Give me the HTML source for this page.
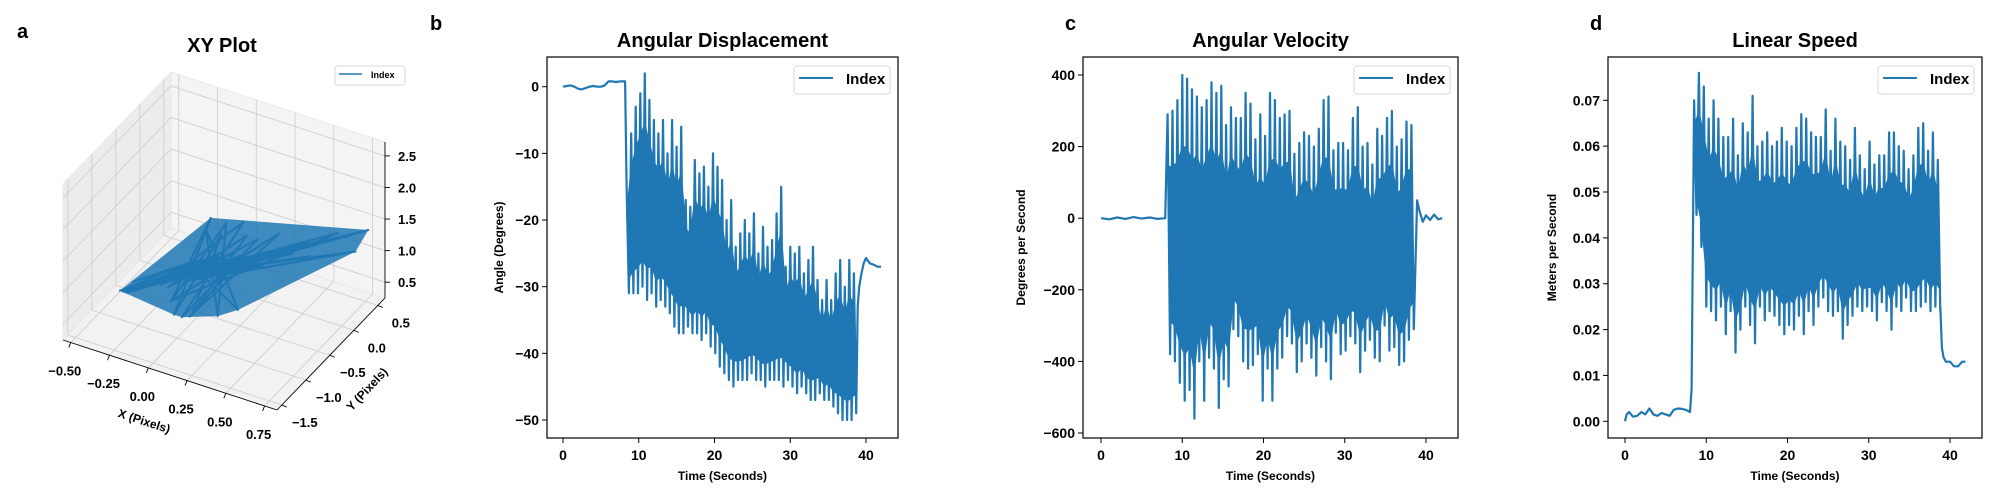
<!DOCTYPE html>
<html><head><meta charset="utf-8">
<style>
body{margin:0;background:#fff;}
svg{display:block;font-family:"Liberation Sans",Arial,sans-serif;}
text{font-weight:bold;fill:#000;}
</style></head>
<body>
<svg id="fig" width="2000" height="500" viewBox="0 0 2000 500"></svg>
<script>
// ---------- Panel b data: Angular Displacement ----------
const bPreT=[0,0.5,1,1.5,2,2.5,3,3.5,4,4.5,5,5.5,6,6.5,7,7.5,8,8.2];
const bPreV=[0,0.1,0.2,0,-0.3,-0.4,-0.2,0,0.1,0,0,0.2,0.8,0.8,0.7,0.8,0.8,0.8];
const bPeaks=[-15,-7,-3,-1,2,-2,-5,-7,-5,-10,-5,-9,-6,-17,-18,-11,-13,-12,-15,-10,-12,-14,-20,-17,-24,-22,-20,-22,-19,-25,-21,-24,-23,-19,-15,-27,-24,-25,-24,-28,-26,-24,-29,-32,-29,-32,-28,-26,-30,-26,-28];
const bTroughs=[-31,-31,-31,-30,-32,-31,-33,-32,-33,-34,-36,-37,-37,-36,-37,-37,-38,-37,-39,-40,-42,-43,-44,-45,-44,-44,-44,-43,-44,-44,-45,-44,-44,-44,-45,-44,-45,-46,-45,-46,-47,-47,-46,-47,-47,-48,-49,-50,-50,-50,-49];
const bPostT=[38.9,39.1,39.4,39.7,40,40.5,41,41.5,42];
const bPostV=[-33,-30,-28,-26.5,-25.7,-26.5,-26.7,-27,-27];
const bXTicks=[0,10,20,30,40];
const bYTicks=[0,-10,-20,-30,-40,-50];

// ---------- Panel c data: Angular Velocity ----------
const cPreT=[0,1,2,3,4,5,6,7,7.9];
const cPreV=[0,-3,2,-2,3,-1,2,-2,0];
const cPeaks=[290,300,330,400,390,360,340,310,330,380,350,370,260,310,280,280,350,320,220,290,230,350,330,280,290,300,180,210,240,230,200,250,330,340,190,210,210,190,280,310,200,210,150,250,230,280,300,200,220,270,260];
const cTroughs=[-380,-400,-460,-510,-480,-560,-400,-510,-390,-420,-530,-450,-470,-310,-330,-400,-420,-410,-380,-510,-420,-510,-420,-390,-330,-350,-430,-400,-350,-390,-440,-360,-400,-450,-320,-380,-370,-330,-350,-430,-370,-340,-390,-400,-300,-370,-360,-410,-400,-340,-310];
const cPostT=[38.9,39.2,39.6,40,40.5,41,41.5,42];
const cPostV=[50,20,-10,8,-5,10,-3,0];
const cXTicks=[0,10,20,30,40];
const cYTicks=[400,200,0,-200,-400,-600];

// ---------- Panel d data: Linear Speed ----------
const dPreT=[0,0.2,0.5,1,1.5,2,2.5,3,3.5,4,4.5,5,5.5,6,6.5,7,7.5,8,8.2];
const dPreV=[0,0.0015,0.002,0.001,0.0012,0.002,0.0015,0.0028,0.0015,0.0012,0.0018,0.0015,0.0012,0.0025,0.0028,0.0027,0.0025,0.002,0.007];
const dPeaks=[0.07,0.076,0.073,0.066,0.07,0.066,0.062,0.062,0.066,0.058,0.065,0.063,0.071,0.060,0.061,0.063,0.06,0.061,0.064,0.061,0.06,0.064,0.067,0.066,0.063,0.062,0.062,0.068,0.059,0.066,0.061,0.06,0.057,0.064,0.058,0.055,0.061,0.056,0.058,0.058,0.063,0.063,0.06,0.059,0.055,0.058,0.064,0.065,0.059,0.063,0.057];
const dTroughs=[0.045,0.038,0.025,0.024,0.022,0.025,0.019,0.024,0.015,0.020,0.025,0.021,0.017,0.025,0.022,0.024,0.023,0.021,0.019,0.021,0.020,0.023,0.019,0.024,0.021,0.025,0.027,0.024,0.023,0.024,0.018,0.021,0.023,0.025,0.024,0.025,0.024,0.022,0.026,0.024,0.020,0.025,0.024,0.027,0.024,0.024,0.025,0.026,0.024,0.025,0.024];
const dPostT=[38.8,39,39.2,39.5,40,40.5,41,41.5,41.9];
const dPostV=[0.025,0.016,0.014,0.013,0.013,0.012,0.012,0.013,0.013];
const dXTicks=[0,10,20,30,40];
const dYTicks=[0.07,0.06,0.05,0.04,0.03,0.02,0.01,0.00];

// ---------- Panel a data: XY trajectory ----------
const aX=[-0.4,-0.1,-0.35,0.0,-0.3,0.1,-0.38,-0.05,-0.25,0.15,-0.32,0.05,-0.2,0.2,-0.36,0.0,-0.15,0.3,-0.28,0.1,-0.1,0.4,-0.2,0.2,-0.3,0.25,-0.05,0.5,-0.15,0.35,-0.25,0.6,-0.1,0.7,-0.2,0.8,-0.05,0.78,0.0,0.55,-0.3,0.3,-0.35,0.1,-0.4,0.0,-0.2,0.45,-0.1,0.65,-0.1,0.0,-0.05,0.1,0.05,0.2,-0.15,0.3,0.0,0.15,-0.2,0.25,0.05,0.35,-0.1,0.1,0.2,0.0,0.3,-0.05];
const aY=[-0.9,-0.6,-0.8,-0.5,-0.85,-0.4,-0.9,-0.55,-0.7,-0.3,-0.85,-0.45,-0.65,-0.3,-0.9,-0.5,-0.6,-0.2,-0.8,-0.4,-0.5,-0.1,-0.7,-0.3,-0.8,-0.25,-0.55,0.1,-0.6,-0.1,-0.75,0.2,-0.55,0.3,-0.7,0.4,-0.6,0.2,-0.5,0.0,-0.8,-0.2,-0.85,-0.45,-0.9,-0.5,-0.7,-0.05,-0.6,0.25,-0.8,-0.3,-0.9,-0.4,-0.85,-0.2,-0.7,-0.3,-0.9,-0.1,-0.7,-0.4,-0.9,0.0,-0.8,-0.3,-0.8,-0.4,-0.7,-0.6];
const aZ=[0.6,1.0,0.7,1.1,0.65,1.2,0.6,1.0,0.8,1.15,0.7,1.05,0.85,1.1,0.6,1.05,0.9,1.15,0.7,1.0,0.95,1.2,0.75,1.05,0.7,1.1,0.9,1.3,0.8,1.1,0.7,1.35,0.85,1.4,0.75,1.5,0.8,1.3,0.9,1.2,0.7,1.0,0.65,0.95,0.6,0.9,0.75,1.2,0.85,1.45,0.6,1.6,0.5,1.5,0.55,1.4,0.7,1.5,0.5,1.5,0.7,1.3,0.55,1.4,0.6,1.6,0.6,1.5,0.7,1.1];
const aXTicks=[-0.5,-0.25,0,0.25,0.5,0.75];
const aXTickLabels=["\u22120.50","\u22120.25","0.00","0.25","0.50","0.75"];
const aYTicks=[0.5,0,-0.5,-1,-1.5];
const aYTickLabels=["0.5","0.0","\u22120.5","\u22121.0","\u22121.5"];
const aZTicks=[0.5,1,1.5,2,2.5];
const aZTickLabels=["0.5","1.0","1.5","2.0","2.5"];

const NS="http://www.w3.org/2000/svg";
const svg=document.getElementById('fig');
const BLUE="#1f77b4";
function mk(tag,attrs,parent){const e=document.createElementNS(NS,tag);for(const k in attrs)e.setAttribute(k,attrs[k]);(parent||svg).appendChild(e);return e;}
function fmt(v,dec){const s=Math.abs(v).toFixed(dec);return (v<0?"\u2212":"")+s;}

function panel(cfg){
  const g=mk('g',{});
  
  
  const sx=t=>cfg.x0px+(t-0)*(cfg.x40px-cfg.x0px)/40;
  const sy=v=>cfg.yAp+(v-cfg.yA)*(cfg.yBp-cfg.yAp)/(cfg.yB-cfg.yA);
  const n=Math.min(cfg.peaks.length,cfg.troughs.length);
  let up=[],lo=[];
  for(let i=0;i<n;i++){
    up.push([sx(cfg.start+i*cfg.step),sy(cfg.peaks[i]*0.78+cfg.troughs[i]*0.22)]);
    lo.push([sx(cfg.start+cfg.step/2+i*cfg.step),sy(cfg.troughs[i]*0.86+cfg.peaks[i]*0.14)]);
  }
  const band=up.concat(lo.reverse());
  const bp=mk('polygon',{points:band.map(q=>q[0].toFixed(1)+','+q[1].toFixed(1)).join(' '),fill:BLUE,stroke:BLUE,'stroke-width':1},g);
  
  
  let pts=[];
  for(let i=0;i<cfg.preT.length;i++)pts.push([sx(cfg.preT[i]),sy(cfg.preV[i])]);
  for(let i=0;i<n;i++){
    pts.push([sx(cfg.start+i*cfg.step),sy(cfg.peaks[i])]);
    pts.push([sx(cfg.start+cfg.step/2+i*cfg.step),sy(cfg.troughs[i])]);
  }
  for(let i=0;i<cfg.postT.length;i++)pts.push([sx(cfg.postT[i]),sy(cfg.postV[i])]);
  const p=mk('path',{d:'M'+pts.map(q=>q[0].toFixed(1)+','+q[1].toFixed(1)).join('L'),fill:'none',stroke:BLUE,'stroke-width':2.2,'stroke-linejoin':'round'},g);
  
  
  const fr=mk('rect',{x:cfg.L,y:cfg.T,width:cfg.R-cfg.L,height:cfg.B-cfg.T,fill:'none',stroke:'#000','stroke-width':1.2},g);
  
  
  cfg.xTicks.forEach(t=>{
    const x=sx(t);
    mk('line',{x1:x,x2:x,y1:cfg.B,y2:cfg.B+5,stroke:'#000','stroke-width':1},g);
    const tx=mk('text',{x:x,y:cfg.B+22,'font-size':14,'text-anchor':'middle'},g);
    tx.textContent=String(t);
    
    
  });
  cfg.yTicks.forEach(v=>{
    const y=sy(v);
    mk('line',{x1:cfg.L-5,x2:cfg.L,y1:y,y2:y,stroke:'#000','stroke-width':1},g);
    const tx=mk('text',{x:cfg.L-8,y:y+5,'font-size':14,'text-anchor':'end'},g);
    tx.textContent=fmt(v,cfg.dec);
    
    
  });
  const xl=mk('text',{x:(cfg.L+cfg.R)/2,y:cfg.B+42,'font-size':12,'text-anchor':'middle'},g);
  xl.textContent='Time (Seconds)';
  
  
  const yl=mk('text',{x:0,y:0,'font-size':12,'text-anchor':'middle',transform:`translate(${cfg.ylx},${(cfg.T+cfg.B)/2}) rotate(-90)`},g);
  yl.textContent=cfg.ylabel;
  
  
  const ti=mk('text',{x:(cfg.L+cfg.R)/2,y:47,'font-size':20,'text-anchor':'middle'},g);
  ti.textContent=cfg.title;
  
  
  const le=mk('text',{x:cfg.letX,y:30,'font-size':20},g);
  le.textContent=cfg.letter;
  
  
  const lg=mk('g',{},g);
  
  
  mk('rect',{x:cfg.R-104,y:66,width:96,height:28,rx:3,fill:'#fff',stroke:'#d8d8d8','stroke-width':1},lg);
  mk('line',{x1:cfg.R-99,x2:cfg.R-65,y1:78,y2:78,stroke:BLUE,'stroke-width':2},lg);
  const lt=mk('text',{x:cfg.R-52,y:84,'font-size':15},lg);
  lt.textContent='Index';
  
  
}

panel({name:'angular-displacement-panel',title:'Angular Displacement',letter:'b',letX:430,ylabel:'Angle (Degrees)',ylx:503,
  L:547,R:898,T:57,B:438,x0px:563,x40px:866,yA:0,yAp:86.7,yB:-50,yBp:420,dec:0,
  preT:bPreT,preV:bPreV,peaks:bPeaks,troughs:bTroughs,start:8.4,step:0.6,postT:bPostT,postV:bPostV,xTicks:bXTicks,yTicks:bYTicks});
panel({name:'angular-velocity-panel',title:'Angular Velocity',letter:'c',letX:1065,ylabel:'Degrees per Second',ylx:1025,
  L:1083,R:1458,T:57,B:438,x0px:1101,x40px:1426,yA:400,yAp:75,yB:-600,yBp:433,dec:0,
  preT:cPreT,preV:cPreV,peaks:cPeaks,troughs:cTroughs,start:8.2,step:0.6,postT:cPostT,postV:cPostV,xTicks:cXTicks,yTicks:cYTicks});
panel({name:'linear-speed-panel',title:'Linear Speed',letter:'d',letX:1590,ylabel:'Meters per Second',ylx:1556,
  L:1608,R:1982,T:57,B:438,x0px:1625,x40px:1950,yA:0.07,yAp:100.3,yB:0,yBp:421.3,dec:2,
  preT:dPreT,preV:dPreV,peaks:dPeaks,troughs:dTroughs,start:8.5,step:0.6,postT:dPostT,postV:dPostV,xTicks:dXTicks,yTicks:dYTicks});

// ---------- Panel a: 3D ----------
(function(){
  const g=mk('g',{});
  
  
  const xmin=-0.55,xmax=0.83,ymin=-1.6,ymax=0.65,zmin=0.25,zmax=2.72;
  const Lp=[63,340],Fp=[277,410],Rp=[385,298],H=156;
  function P(x,y,z){
    const fx=(x-xmin)/(xmax-xmin),fy=(y-ymin)/(ymax-ymin),fz=(z-zmin)/(zmax-zmin);
    return [Lp[0]+fx*(Fp[0]-Lp[0])+fy*(Rp[0]-Fp[0]), Lp[1]+fx*(Fp[1]-Lp[1])+fy*(Rp[1]-Fp[1])-fz*H];
  }
  const poly=(arr,fill,name)=>{const e=mk('polygon',{points:arr.map(p=>p.join(',')).join(' '),fill:fill,stroke:'#e6e6e6','stroke-width':0.8},g);};
  poly([P(xmin,ymin,zmin),P(xmax,ymin,zmin),P(xmax,ymax,zmin),P(xmin,ymax,zmin)],'#f2f2f2','floor-pane');
  poly([P(xmin,ymin,zmin),P(xmin,ymax,zmin),P(xmin,ymax,zmax),P(xmin,ymin,zmax)],'#ececec','left-pane');
  poly([P(xmin,ymax,zmin),P(xmax,ymax,zmin),P(xmax,ymax,zmax),P(xmin,ymax,zmax)],'#f4f4f4','back-pane');
  const gl=(a,b)=>mk('line',{x1:a[0],y1:a[1],x2:b[0],y2:b[1],stroke:'#cfcfcf','stroke-width':0.9},g);
  aXTicks.forEach(x=>{gl(P(x,ymin,zmin),P(x,ymax,zmin));gl(P(x,ymax,zmin),P(x,ymax,zmax));});
  aYTicks.forEach(y=>{gl(P(xmin,y,zmin),P(xmax,y,zmin));gl(P(xmin,y,zmin),P(xmin,y,zmax));});
  aZTicks.forEach(z=>{gl(P(xmin,ymin,z),P(xmin,ymax,z));gl(P(xmin,ymax,z),P(xmax,ymax,z));});
  const al=(a,b)=>mk('line',{x1:a[0],y1:a[1],x2:b[0],y2:b[1],stroke:'#000','stroke-width':0.9},g);
  al(P(xmin,ymin,zmin),P(xmax,ymin,zmin));
  al(P(xmax,ymin,zmin),P(xmax,ymax,zmin));
  al(P(xmax,ymax,zmin),P(xmax,ymax,zmax));
  const proj=[];
  for(let i=0;i<aX.length;i++)proj.push(P(aX[i],aY[i],aZ[i]));
  // convex hull fill of projected trajectory
  const s=proj.slice().sort((a,b)=>a[0]-b[0]||a[1]-b[1]);
  const cr=(o,a,b)=>(a[0]-o[0])*(b[1]-o[1])-(a[1]-o[1])*(b[0]-o[0]);
  const lower=[],upper=[];
  for(const p of s){while(lower.length>=2&&cr(lower[lower.length-2],lower[lower.length-1],p)<=0)lower.pop();lower.push(p);}
  for(let i=s.length-1;i>=0;i--){const p=s[i];while(upper.length>=2&&cr(upper[upper.length-2],upper[upper.length-1],p)<=0)upper.pop();upper.push(p);}
  const hull=lower.slice(0,-1).concat(upper.slice(0,-1));
  const hf=mk('polygon',{points:hull.map(p=>p[0].toFixed(1)+','+p[1].toFixed(1)).join(' '),fill:BLUE,'fill-opacity':0.85,stroke:'none'},g);
  
  
  const ln=mk('path',{d:proj.map((p,i)=>(i?'L':'M')+p[0].toFixed(1)+','+p[1].toFixed(1)).join(''),fill:'none',stroke:BLUE,'stroke-width':2,'stroke-linejoin':'round'},g);
  
  
  aXTicks.forEach((x,i)=>{
    const p=P(x,ymin,zmin);
    al(p,[p[0]-2,p[1]+5]);
    const t=mk('text',{x:p[0]-6,y:p[1]+33,'font-size':13,'text-anchor':'middle'},g);
    t.textContent=aXTickLabels[i];
    
    
  });
  aYTicks.forEach((y,i)=>{
    const p=P(xmax,y,zmin);
    al(p,[p[0]+5,p[1]+2]);
    const t=mk('text',{x:p[0]+23,y:p[1]+22,'font-size':13,'text-anchor':'middle'},g);
    t.textContent=aYTickLabels[i];
    
    
  });
  aZTicks.forEach((z,i)=>{
    const p=P(xmax,ymax,z);
    al(p,[p[0]+5,p[1]]);
    const t=mk('text',{x:p[0]+13,y:p[1]+5,'font-size':13,'text-anchor':'start'},g);
    t.textContent=aZTickLabels[i];
    
    
  });
  const xl=mk('text',{x:0,y:0,'font-size':12,'text-anchor':'middle',transform:'translate(143,425) rotate(18)'},g);
  xl.textContent='X (Pixels)';
  
  
  const yl=mk('text',{x:0,y:0,'font-size':12,'text-anchor':'middle',transform:'translate(370,392) rotate(-47)'},g);
  yl.textContent='Y (Pixels)';
  
  
  const ti=mk('text',{x:222,y:52,'font-size':20,'text-anchor':'middle'},g);
  ti.textContent='XY Plot';
  
  
  const le=mk('text',{x:17,y:38,'font-size':20},g);
  le.textContent='a';
  
  
  const lg=mk('g',{},g);
  
  
  mk('rect',{x:335,y:66,width:70,height:19,rx:2,fill:'#fff',stroke:'#d8d8d8','stroke-width':1},lg);
  mk('line',{x1:339,x2:362,y1:74,y2:74,stroke:BLUE,'stroke-width':1.5},lg);
  const lt=mk('text',{x:371,y:78,'font-size':9},lg);
  lt.textContent='Index';
  
  
})();
</script>
</body></html>
